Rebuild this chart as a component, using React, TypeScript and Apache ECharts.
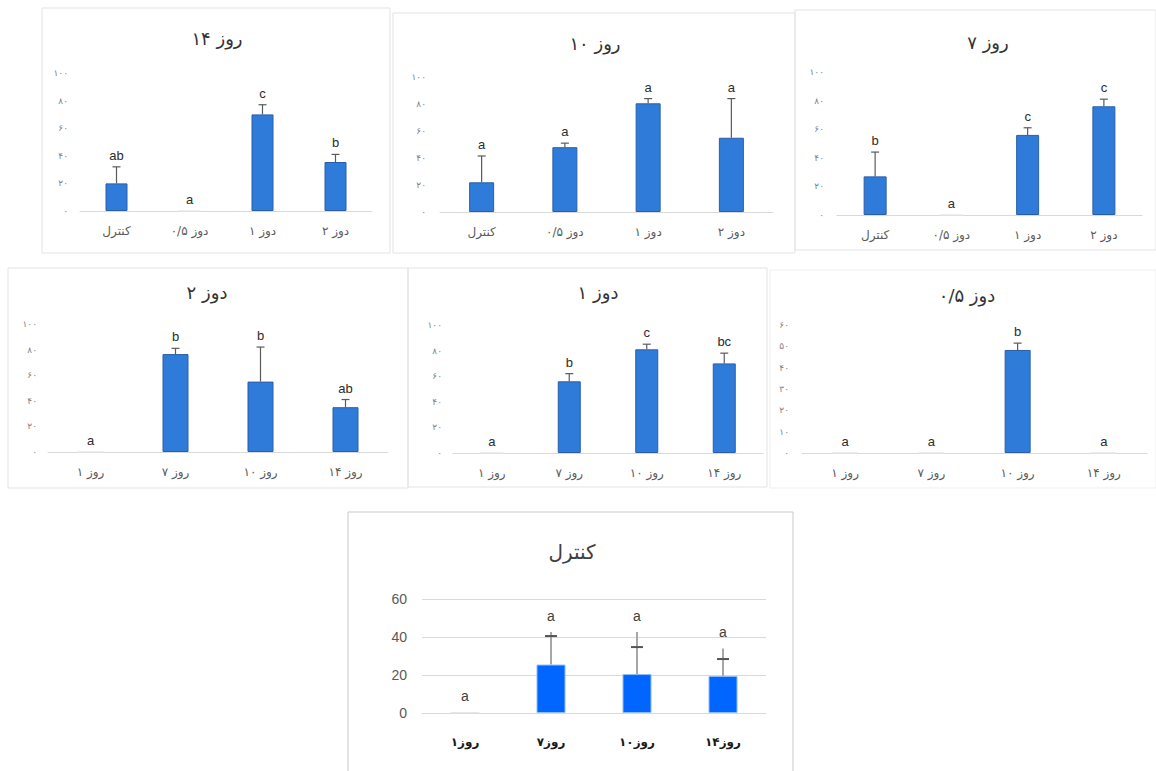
import React, { useEffect, useRef } from "react";
import * as echarts from "echarts";

// ---------- data ----------
const doseCats = ["کنترل", "دوز ۰/۵", "دوز ۱", "دوز ۲"];
const dayCats = ["روز ۱", "روز ۷", "روز ۱۰", "روز ۱۴"];
const controlCats = ["روز۱", "روز۷", "روز۱۰", "روز۱۴"];

const day14Values = [20, 0, 70, 35.5];
const day14Err = [32, 0, 77, 41];
const day14Letters = ["ab", "a", "c", "b"];

const day10Values = [22, 48, 80.5, 55];
const day10Err = [41.5, 51, 84, 84];
const day10Letters = ["a", "a", "a", "a"];

const day7Values = [27, 0, 56, 76];
const day7Err = [44, 0, 61, 81];
const day7Letters = ["b", "a", "c", "c"];

const dose2Values = [0, 76.5, 55, 35];
const dose2Err = [0, 81, 82, 41];
const dose2Letters = ["a", "b", "b", "ab"];

const dose1Values = [0, 56, 81, 70];
const dose1Err = [0, 62, 85, 78];
const dose1Letters = ["a", "b", "c", "bc"];

const dose05Values = [0, 0, 48.3, 0];
const dose05Err = [0, 0, 51.5, 0];
const dose05Letters = ["a", "a", "b", "a"];

const controlValues = [0.3, 25.5, 20.5, 19.5];
const controlErrLine = [0, 42.6, 42.6, 34];
const controlErrCap = [0, 40.5, 34.7, 28.4];
const controlLetters = ["a", "a", "a", "a"];

// ---------- panels (data refs + layout) ----------
type Panel = {
  title: string;
  cats: string[];
  values: number[];
  errLine: number[];
  errCap: number[];
  letters: string[];
  yMax: number;
  yInterval: number;
  big: boolean;
  grid: { left: number; top: number; width: number; height: number };
  border: { x: number; y: number; w: number; h: number; color: string };
  titlePos: [number, number];
  barWidth: number;
  labelMargin: number;
};

const panels: Panel[] = [
  {
    title: "روز ۱۴", cats: doseCats, values: day14Values, errLine: day14Err, errCap: day14Err, letters: day14Letters,
    yMax: 100, yInterval: 20, big: false,
    grid: { left: 80, top: 73, width: 292, height: 138 },
    border: { x: 42, y: 8, w: 348, h: 245, color: "#e3e3e3" }, titlePos: [217, 38], barWidth: 22, labelMargin: 12,
  },
  {
    title: "روز ۱۰", cats: doseCats, values: day10Values, errLine: day10Err, errCap: day10Err, letters: day10Letters,
    yMax: 100, yInterval: 20, big: false,
    grid: { left: 440, top: 77, width: 333, height: 135 },
    border: { x: 393, y: 13, w: 402, h: 240, color: "#e3e3e3" }, titlePos: [595, 43], barWidth: 25, labelMargin: 14,
  },
  {
    title: "روز ۷", cats: doseCats, values: day7Values, errLine: day7Err, errCap: day7Err, letters: day7Letters,
    yMax: 100, yInterval: 20, big: false,
    grid: { left: 837, top: 72, width: 305, height: 143 },
    border: { x: 795, y: 10, w: 361, h: 240, color: "#e3e3e3" }, titlePos: [988, 42], barWidth: 23, labelMargin: 13,
  },
  {
    title: "دوز ۲", cats: dayCats, values: dose2Values, errLine: dose2Err, errCap: dose2Err, letters: dose2Letters,
    yMax: 100, yInterval: 20, big: false,
    grid: { left: 48, top: 324, width: 340, height: 128 },
    border: { x: 8, y: 268, w: 400, h: 220, color: "#e3e3e3" }, titlePos: [207, 292], barWidth: 26, labelMargin: 11,
  },
  {
    title: "دوز ۱", cats: dayCats, values: dose1Values, errLine: dose1Err, errCap: dose1Err, letters: dose1Letters,
    yMax: 100, yInterval: 20, big: false,
    grid: { left: 453, top: 325, width: 310, height: 128 },
    border: { x: 408, y: 268, w: 359, h: 219, color: "#e3e3e3" }, titlePos: [598, 292], barWidth: 23, labelMargin: 11,
  },
  {
    title: "دوز ۰/۵", cats: dayCats, values: dose05Values, errLine: dose05Err, errCap: dose05Err, letters: dose05Letters,
    yMax: 60, yInterval: 10, big: false,
    grid: { left: 802, top: 325, width: 345, height: 128 },
    border: { x: 770, y: 270, w: 386, h: 218, color: "#efefef" }, titlePos: [967, 295], barWidth: 26, labelMargin: 13,
  },
  {
    title: "کنترل", cats: controlCats, values: controlValues, errLine: controlErrLine, errCap: controlErrCap, letters: controlLetters,
    yMax: 60, yInterval: 20, big: true,
    grid: { left: 422, top: 599, width: 344, height: 114 },
    border: { x: 348, y: 512, w: 445, h: 270, color: "#c9c9c9" }, titlePos: [572, 552], barWidth: 29, labelMargin: 15,
  },
];

const FA_DIGITS = "۰۱۲۳۴۵۶۷۸۹";
const toFa = (n: number) => String(n).replace(/\d/g, (d) => FA_DIGITS[Number(d)]);

const FA_FONT = "DejaVu Sans, Noto Sans, sans-serif";
const LAT_FONT = "Liberation Sans, Arial, sans-serif";

export default function App() {
  const ref = useRef<HTMLDivElement>(null);

  useEffect(() => {
    document.body.style.margin = "0";
    if (!ref.current) return;
    const chart = echarts.init(ref.current, null, { renderer: "svg" });

    const grids: any[] = [];
    const xAxes: any[] = [];
    const yAxes: any[] = [];
    const series: any[] = [];
    const graphics: any[] = [];

    panels.forEach((p, k) => {
      grids.push({ ...p.grid, containLabel: false });
      xAxes.push({
        type: "category",
        gridIndex: k,
        data: p.cats,
        axisLine: { show: true, lineStyle: { color: "#d9d9d9", width: 1 } },
        axisTick: { show: false },
        axisLabel: p.big
          ? { color: "#1a1a1a", fontSize: 12, fontWeight: "bold", fontFamily: FA_FONT, margin: 23 }
          : { color: "#5a5a5a", fontSize: 12, fontFamily: FA_FONT, margin: 14 },
        splitLine: { show: false },
      });
      yAxes.push({
        type: "value",
        gridIndex: k,
        min: 0,
        max: p.yMax,
        interval: p.yInterval,
        axisLine: { show: false },
        axisTick: { show: false },
        splitLine: p.big ? { show: true, lineStyle: { color: "#d9d9d9", width: 1.2 } } : { show: false },
        axisLabel: p.big
          ? { color: "#595959", fontSize: 14, fontFamily: LAT_FONT, margin: p.labelMargin }
          : { color: "#7f7f7f", fontSize: 9, fontFamily: FA_FONT, margin: p.labelMargin, formatter: (v: number) => toFa(v) },
      });

      const normalStyle = p.big
        ? { color: "#0066ff", borderColor: "#8fbaf5", borderWidth: 1 }
        : { color: "#2f7bd9", borderColor: "#2a5ea8", borderWidth: 1 };
      series.push({
        type: "bar",
        xAxisIndex: k,
        yAxisIndex: k,
        data: p.values.map((v) =>
          v < 1 ? { value: v, itemStyle: { color: "#e6e6e6", borderColor: "#e6e6e6", borderWidth: 1 } } : v
        ),
        barWidth: p.barWidth,
        itemStyle: normalStyle,
        silent: true,
      });

      const gap = p.big ? 9 : 5;
      series.push({
        type: "custom",
        xAxisIndex: k,
        yAxisIndex: k,
        silent: true,
        data: p.values.map((v, i) => [i, v, p.errLine[i], p.errCap[i]]),
        renderItem: (params: any, api: any) => {
          const i = api.value(0);
          const v = api.value(1);
          const e = api.value(2);
          const c = api.value(3);
          const pb = api.coord([i, v]);
          const pe = api.coord([i, e]);
          const pc = api.coord([i, c]);
          const children: any[] = [];
          if (e > v) {
            children.push({
              type: "line",
              shape: { x1: pb[0], y1: pb[1], x2: pe[0], y2: pe[1] },
              style: { stroke: p.big ? "#a6a6a6" : "#5a5a5a", lineWidth: p.big ? 2 : 1.2 },
            });
            children.push({
              type: "line",
              shape: { x1: pc[0] - (p.big ? 6 : 4), y1: pc[1], x2: pc[0] + (p.big ? 6 : 4), y2: pc[1] },
              style: { stroke: p.big ? "#555555" : "#5a5a5a", lineWidth: p.big ? 2 : 1.2 },
            });
          }
          const topY = Math.min(pe[1], pb[1], pc[1]);
          children.push({
            type: "text",
            x: pb[0],
            y: topY - gap,
            style: {
              text: p.letters[i],
              fill: p.big ? "#404040" : "#2b2b2b",
              fontSize: p.big ? 14 : 13,
              fontFamily: LAT_FONT,
              align: "center",
              verticalAlign: "bottom",
            },
          });
          return { type: "group", children };
        },
      });

      graphics.push({
        type: "rect",
        shape: { x: p.border.x, y: p.border.y, width: p.border.w, height: p.border.h },
        style: { fill: "none", stroke: p.border.color, lineWidth: 1 },
        silent: true,
        z: -1,
      });
      graphics.push({
        type: "text",
        x: p.titlePos[0],
        y: p.titlePos[1],
        style: {
          text: p.title,
          fill: p.big ? "#404040" : "#333333",
          fontSize: p.big ? 20 : 18,
          fontFamily: FA_FONT,
          align: "center",
          verticalAlign: "middle",
        },
        silent: true,
      });
    });

    chart.setOption({
      animation: false,
      backgroundColor: "#ffffff",
      grid: grids,
      xAxis: xAxes,
      yAxis: yAxes,
      series,
      graphic: graphics,
    });

    return () => chart.dispose();
  }, []);

  return (
    <div
      ref={ref}
      style={{ position: "absolute", left: 0, top: 0, width: 1156, height: 771, background: "#fff" }}
    />
  );
}
